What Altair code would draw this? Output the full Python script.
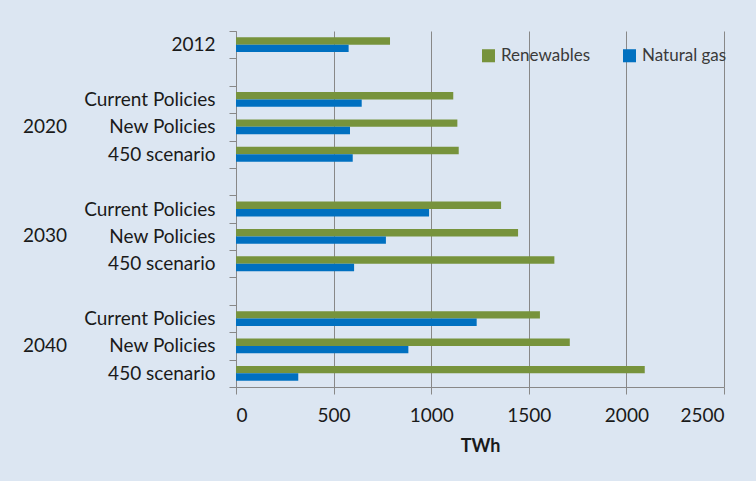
import altair as alt
import pandas as pd

# Electricity generation by scenario (TWh)
years = ["2012", "2020", "2020", "2020", "2030", "2030", "2030", "2040", "2040", "2040"]
scenarios = ["2012", "Current Policies", "New Policies", "450 scenario",
             "Current Policies", "New Policies", "450 scenario",
             "Current Policies", "New Policies", "450 scenario"]
renewables = [789, 1113, 1134, 1141, 1358, 1445, 1631, 1557, 1710, 2094]
natural_gas = [577, 644, 584, 598, 989, 768, 605, 1233, 883, 319]

series_names = ["Renewables", "Natural gas"]
series_colors = ["#77933c", "#0070c0"]
x_ticks = [0, 500, 1000, 1500, 2000, 2500]

FONT = "Lato"
TEXT = "#1a1a1a"
GRID = "#888888"

# category keys: 4-char year prefix + label; an empty slot separates each year group
cat_keys = [f"{y}{s}" for y, s in zip(years, scenarios)]
domain = []
prev = None
for y, k in zip(years, cat_keys):
    if prev is not None and y != prev:
        domain.append(f"g{len(domain):03d}")
    domain.append(k)
    prev = y

ren_df = pd.DataFrame({"cat": cat_keys, "series": series_names[0], "twh": renewables})
gas_df = pd.DataFrame({"cat": cat_keys, "series": series_names[1], "twh": natural_gas})

# year label placed on the middle scenario of each group
year_rows = []
for y in dict.fromkeys(years):
    keys = [k for yy, k in zip(years, cat_keys) if yy == y]
    if len(keys) > 1:
        year_rows.append({"cat": keys[len(keys) // 2], "yr": y})
years_df = pd.DataFrame(year_rows)

# the extra boundary tick has no value, so guard the label expression
y_enc = alt.Y("cat:N", scale=alt.Scale(domain=domain, paddingInner=0, paddingOuter=0),
              axis=alt.Axis(title=None, tickBand="extent", tickSize=7,
                            labelExpr="isValid(datum.value) ? slice(datum.value, 4) : ''",
                            labelPadding=14, labelFont=FONT, labelFontSize=19,
                            labelColor=TEXT, domainColor=GRID, tickColor=GRID,
                            grid=False))

x_enc = alt.X("twh:Q",
              scale=alt.Scale(domain=[0, 2500], nice=False),
              axis=alt.Axis(values=x_ticks, format="d", title="TWh", grid=True,
                            gridColor=GRID, domainColor=GRID, tickColor=GRID,
                            tickSize=7, labelFont=FONT, labelFontSize=19,
                            labelColor=TEXT, labelPadding=12, titleFont=FONT,
                            titleFontSize=18, titleFontWeight="bold",
                            titleColor=TEXT, titlePadding=12))

color_enc = alt.Color("series:N",
                      scale=alt.Scale(domain=series_names, range=series_colors),
                      legend=alt.Legend(orient="none", legendX=244, legendY=16,
                                        direction="horizontal", title=None,
                                        symbolType="square", symbolSize=170,
                                        symbolStrokeWidth=0, labelFont=FONT,
                                        labelFontSize=17, labelColor="#3a3a3a",
                                        labelOffset=4, columnPadding=30))

# renewables sit just above the slot centre, natural gas just below
ren_bars = alt.Chart(ren_df).mark_bar(
    height=alt.RelativeBandSize(0.27), yOffset=-3.7
).encode(x=x_enc, y=y_enc, color=color_enc)

gas_bars = alt.Chart(gas_df).mark_bar(
    height=alt.RelativeBandSize(0.27), yOffset=3.7
).encode(x=x_enc, y=y_enc, color=color_enc)

year_text = alt.Chart(years_df).mark_text(
    align="left", baseline="middle", font=FONT, fontSize=19, color=TEXT
).encode(
    x=alt.value(-213),
    y=alt.Y("cat:N"),
    text="yr:N",
)

chart = alt.layer(ren_bars, gas_bars, year_text).properties(
    width=488,
    height=356,
    background="#dce6f2",
    padding={"left": 236, "top": 31, "right": 32, "bottom": 94},
    autosize=alt.AutoSizeParams(type="none"),
).configure_view(stroke=None)

chart.save("out.html", embed_options={"renderer": "svg", "actions": False})
